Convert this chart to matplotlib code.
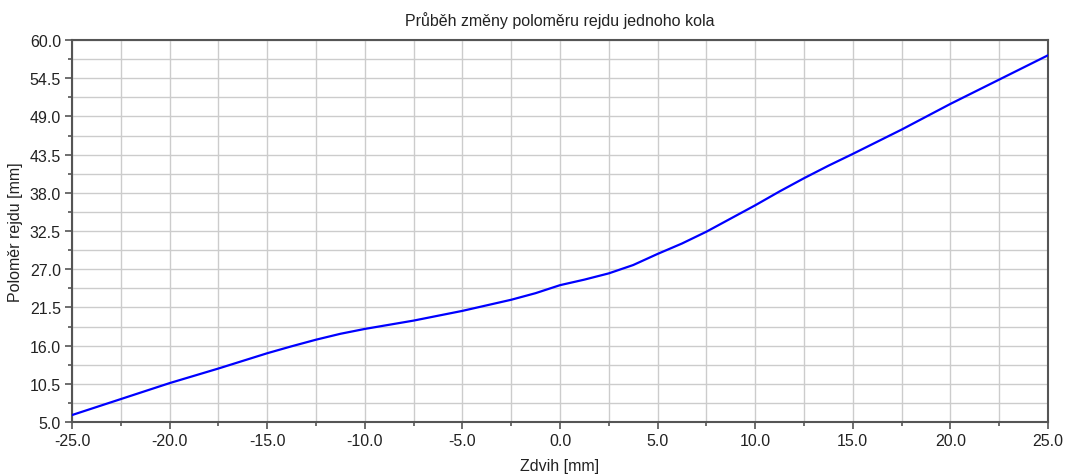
import matplotlib
matplotlib.use("Agg")
import matplotlib.pyplot as plt
import numpy as np
from matplotlib.ticker import FixedLocator, FormatStrFormatter

plt.rcParams['font.family'] = ['Liberation Sans', 'DejaVu Sans']

zdvih = [-25.0, -22.5, -20.0, -18.75, -17.5, -16.25, -15.0, -13.75, -12.5, -11.25,
         -10.0, -8.75, -7.5, -5.0, -3.75, -2.5, -1.25, 0.0, 1.25, 2.5, 3.75,
         5.0, 6.25, 7.5, 8.75, 10.0, 11.25, 12.5, 13.75, 15.0, 16.25, 17.5,
         20.0, 22.5, 25.0]
polomer = [6.0, 8.3, 10.6, 11.65, 12.7, 13.8, 14.9, 15.9, 16.85, 17.7,
           18.4, 19.0, 19.6, 21.0, 21.8, 22.6, 23.55, 24.7, 25.5, 26.4, 27.6,
           29.2, 30.7, 32.4, 34.3, 36.2, 38.2, 40.1, 41.9, 43.6, 45.35, 47.1,
           50.8, 54.3, 57.8]

x_ticks = [-25.0, -20.0, -15.0, -10.0, -5.0, 0.0, 5.0, 10.0, 15.0, 20.0, 25.0]
y_ticks = [5.0, 10.5, 16.0, 21.5, 27.0, 32.5, 38.0, 43.5, 49.0, 54.5, 60.0]

title = "Průběh změny poloměru rejdu jednoho kola"
xlabel = "Zdvih [mm]"
ylabel = "Poloměr rejdu [mm]"

fig = plt.figure(figsize=(10.67, 4.77), dpi=100)
ax = fig.add_axes([72/1067, 54/477, (1048-72)/1067, (423-41)/477])

ax.plot(zdvih, polomer, color='#0000ff', lw=1.6, zorder=3)

ax.set_xlim(-25, 25)
ax.set_ylim(5, 60)
ax.xaxis.set_major_locator(FixedLocator(x_ticks))
ax.xaxis.set_minor_locator(FixedLocator(np.arange(-25, 25.01, 2.5)))
ax.yaxis.set_major_locator(FixedLocator(y_ticks))
ax.yaxis.set_minor_locator(FixedLocator(np.arange(5, 60.01, 2.75)))
ax.xaxis.set_major_formatter(FormatStrFormatter('%.1f'))
ax.yaxis.set_major_formatter(FormatStrFormatter('%.1f'))

ax.grid(True, which='both', color='#cccccc', lw=1.0, zorder=0)
for s in ax.spines.values():
    s.set_color('#555555')
    s.set_linewidth(1.5)

ax.tick_params(which='major', length=5, width=1.2, color='#555555',
               labelsize=11.5, labelcolor='#222222', pad=3)
ax.tick_params(which='minor', length=3, width=1.2, color='#555555')

ax.set_title(title, fontsize=11.5, color='#222222', pad=11)
ax.set_xlabel(xlabel, fontsize=11.5, color='#222222', labelpad=7)
ax.set_ylabel(ylabel, fontsize=11.5, color='#222222', labelpad=5)

fig.savefig("out.png", dpi=100)
